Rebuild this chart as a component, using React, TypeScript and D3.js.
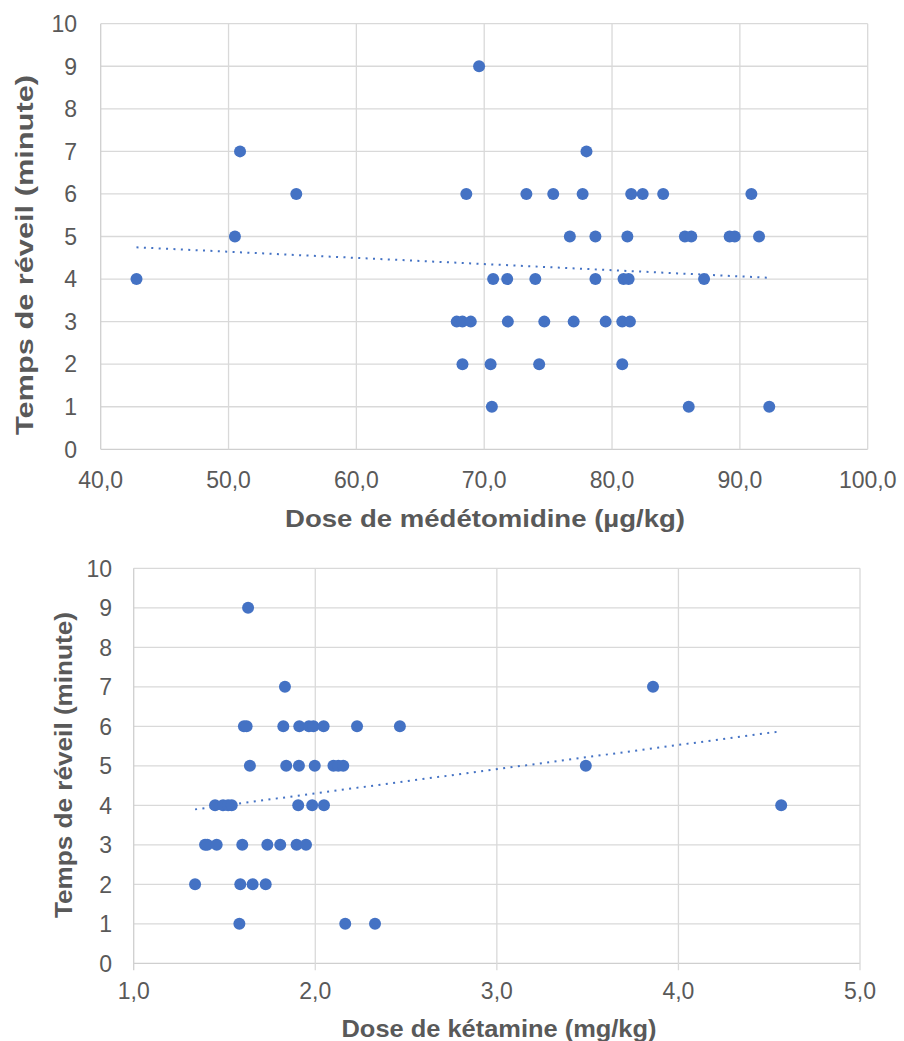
import React from "react";
import * as d3 from "d3";

// ---- Data: top chart (médétomidine dose vs wake-up time)
const medeDose: number[] = [
  69.6,
  50.9, 78.0,
  55.3, 68.6, 73.3, 75.4, 77.7, 81.5, 82.4, 84.0, 90.9,
  50.5, 76.7, 78.7, 81.2, 85.7, 86.2, 89.2, 89.6, 91.5,
  42.8, 70.7, 71.8, 74.0, 78.7, 80.9, 81.3, 87.2,
  67.85, 68.3, 68.95, 71.85, 74.7, 77.0, 79.5, 80.8, 81.4,
  68.3, 70.5, 74.3, 80.8,
  70.6, 86.0, 92.3,
];
const medeTime: number[] = [
  9,
  7, 7,
  6, 6, 6, 6, 6, 6, 6, 6, 6,
  5, 5, 5, 5, 5, 5, 5, 5, 5,
  4, 4, 4, 4, 4, 4, 4, 4,
  3, 3, 3, 3, 3, 3, 3, 3, 3,
  2, 2, 2, 2,
  1, 1, 1,
];

// ---- Data: bottom chart (kétamine dose vs wake-up time)
const ketaDose: number[] = [
  1.63,
  1.833, 3.86,
  1.607, 1.622, 1.824, 1.912, 1.965, 1.99, 2.046, 2.23, 2.466,
  1.64, 1.84, 1.91, 1.997, 2.10, 2.127, 2.154, 3.49,
  1.448, 1.492, 1.52, 1.54, 1.906, 1.983, 2.048, 4.566,
  1.393, 1.405, 1.457, 1.598, 1.736, 1.807, 1.897, 1.949,
  1.338, 1.587, 1.655, 1.727,
  1.582, 2.165, 2.329,
];
const ketaTime: number[] = [
  9,
  7, 7,
  6, 6, 6, 6, 6, 6, 6, 6, 6,
  5, 5, 5, 5, 5, 5, 5, 5,
  4, 4, 4, 4, 4, 4, 4, 4,
  3, 3, 3, 3, 3, 3, 3, 3,
  2, 2, 2, 2,
  1, 1, 1,
];

const yTicks: number[] = [0, 1, 2, 3, 4, 5, 6, 7, 8, 9, 10];
const medeTicks: number[] = [40, 50, 60, 70, 80, 90, 100];
const ketaTicks: number[] = [1, 2, 3, 4, 5];

const yTitle = "Temps de réveil (minute)";
const medeTitle = "Dose de médétomidine (µg/kg)";
const ketaTitle = "Dose de kétamine (mg/kg)";

const BLUE = "#4472C4";
const GRID = "#d9d9d9";
const TEXT = "#595959";
const FONT = "'Liberation Sans', Arial, sans-serif";

const fmt = (v: number) => v.toFixed(1).replace(".", ",");

function regression(xs: number[], ys: number[]) {
  const mx = d3.mean(xs)!;
  const my = d3.mean(ys)!;
  let num = 0, den = 0;
  xs.forEach((x, i) => {
    num += (x - mx) * (ys[i] - my);
    den += (x - mx) * (x - mx);
  });
  const slope = num / den;
  return { slope, intercept: my - slope * mx };
}

interface PanelProps {
  xs: number[];
  ys: number[];
  xDomain: [number, number];
  xTicks: number[];
  left: number; right: number; top: number; bottom: number;
  xTitle: string;
  xTitleY: number; xTitleX: number; xTitleLen: number;
  yTitleX: number; yTitleY: number; yTitleLen: number;
  yLabelX: number; xLabelY: number;
  tickMarks: boolean;
}

function Panel(p: PanelProps) {
  const x = d3.scaleLinear().domain(p.xDomain).range([p.left, p.right]);
  const y = d3.scaleLinear().domain([0, 10]).range([p.bottom, p.top]);
  const { slope, intercept } = regression(p.xs, p.ys);
  const [x0, x1] = d3.extent(p.xs) as [number, number];
  const trend = d3.line<number>().x((d) => x(d)).y((d) => y(slope * d + intercept));
  return (
    <g>
      {yTicks.map((t) => (
        <line key={"gy" + t} x1={p.left} x2={p.right} y1={y(t)} y2={y(t)}
          stroke={t === 0 ? "#cfcfcf" : GRID} strokeWidth={1.3} />
      ))}
      {p.xTicks.map((t) => (
        <line key={"gx" + t} x1={x(t)} x2={x(t)} y1={p.top}
          y2={p.tickMarks ? p.bottom + 7 : p.bottom}
          stroke={t === p.xDomain[0] ? "#cfcfcf" : GRID} strokeWidth={1.3} />
      ))}
      {yTicks.map((t) => (
        <text key={"ly" + t} x={p.yLabelX} y={y(t)} dy="0.36em" textAnchor="end"
          fontSize={23} fill={TEXT} fontFamily={FONT}>{t}</text>
      ))}
      {p.xTicks.map((t) => (
        <text key={"lx" + t} x={x(t)} y={p.xLabelY} textAnchor="middle"
          fontSize={23} fill={TEXT} fontFamily={FONT}>{fmt(t)}</text>
      ))}
      <path d={trend([x0, x1]) || ""} fill="none" stroke={BLUE} strokeWidth={2}
        strokeDasharray="2,5.4" />
      {p.xs.map((d, i) => (
        <circle key={"p" + i} cx={x(d)} cy={y(p.ys[i])} r={6} fill={BLUE} />
      ))}
      <text x={p.xTitleX} y={p.xTitleY} textAnchor="middle" fontSize={24}
        fontWeight="bold" fill={TEXT} fontFamily={FONT}
        textLength={p.xTitleLen} lengthAdjust="spacingAndGlyphs">{p.xTitle}</text>
      <text transform={`translate(${p.yTitleX},${p.yTitleY}) rotate(-90)`}
        textAnchor="middle" fontSize={24} fontWeight="bold" fill={TEXT}
        fontFamily={FONT} textLength={p.yTitleLen}
        lengthAdjust="spacingAndGlyphs">{yTitle}</text>
    </g>
  );
}

export default function App() {
  return (
    <svg width={904} height={1041}
      style={{ position: "absolute", left: 0, top: 0, display: "block", background: "#fff" }}>
      <rect width={904} height={1041} fill="#fff" />
      <Panel xs={medeDose} ys={medeTime} xDomain={[40, 100]} xTicks={medeTicks}
        left={100.7} right={867.7} top={23.7} bottom={449.3}
        xTitle={medeTitle} xTitleX={485} xTitleY={527} xTitleLen={400}
        yTitleX={33} yTitleY={255} yTitleLen={360}
        yLabelX={77} xLabelY={488} tickMarks={false} />
      <Panel xs={ketaDose} ys={ketaTime} xDomain={[1, 5]} xTicks={ketaTicks}
        left={133.7} right={860} top={568.3} bottom={963.3}
        xTitle={ketaTitle} xTitleX={499} xTitleY={1037} xTitleLen={315}
        yTitleX={72} yTitleY={765} yTitleLen={306}
        yLabelX={112} xLabelY={999} tickMarks={true} />
    </svg>
  );
}
